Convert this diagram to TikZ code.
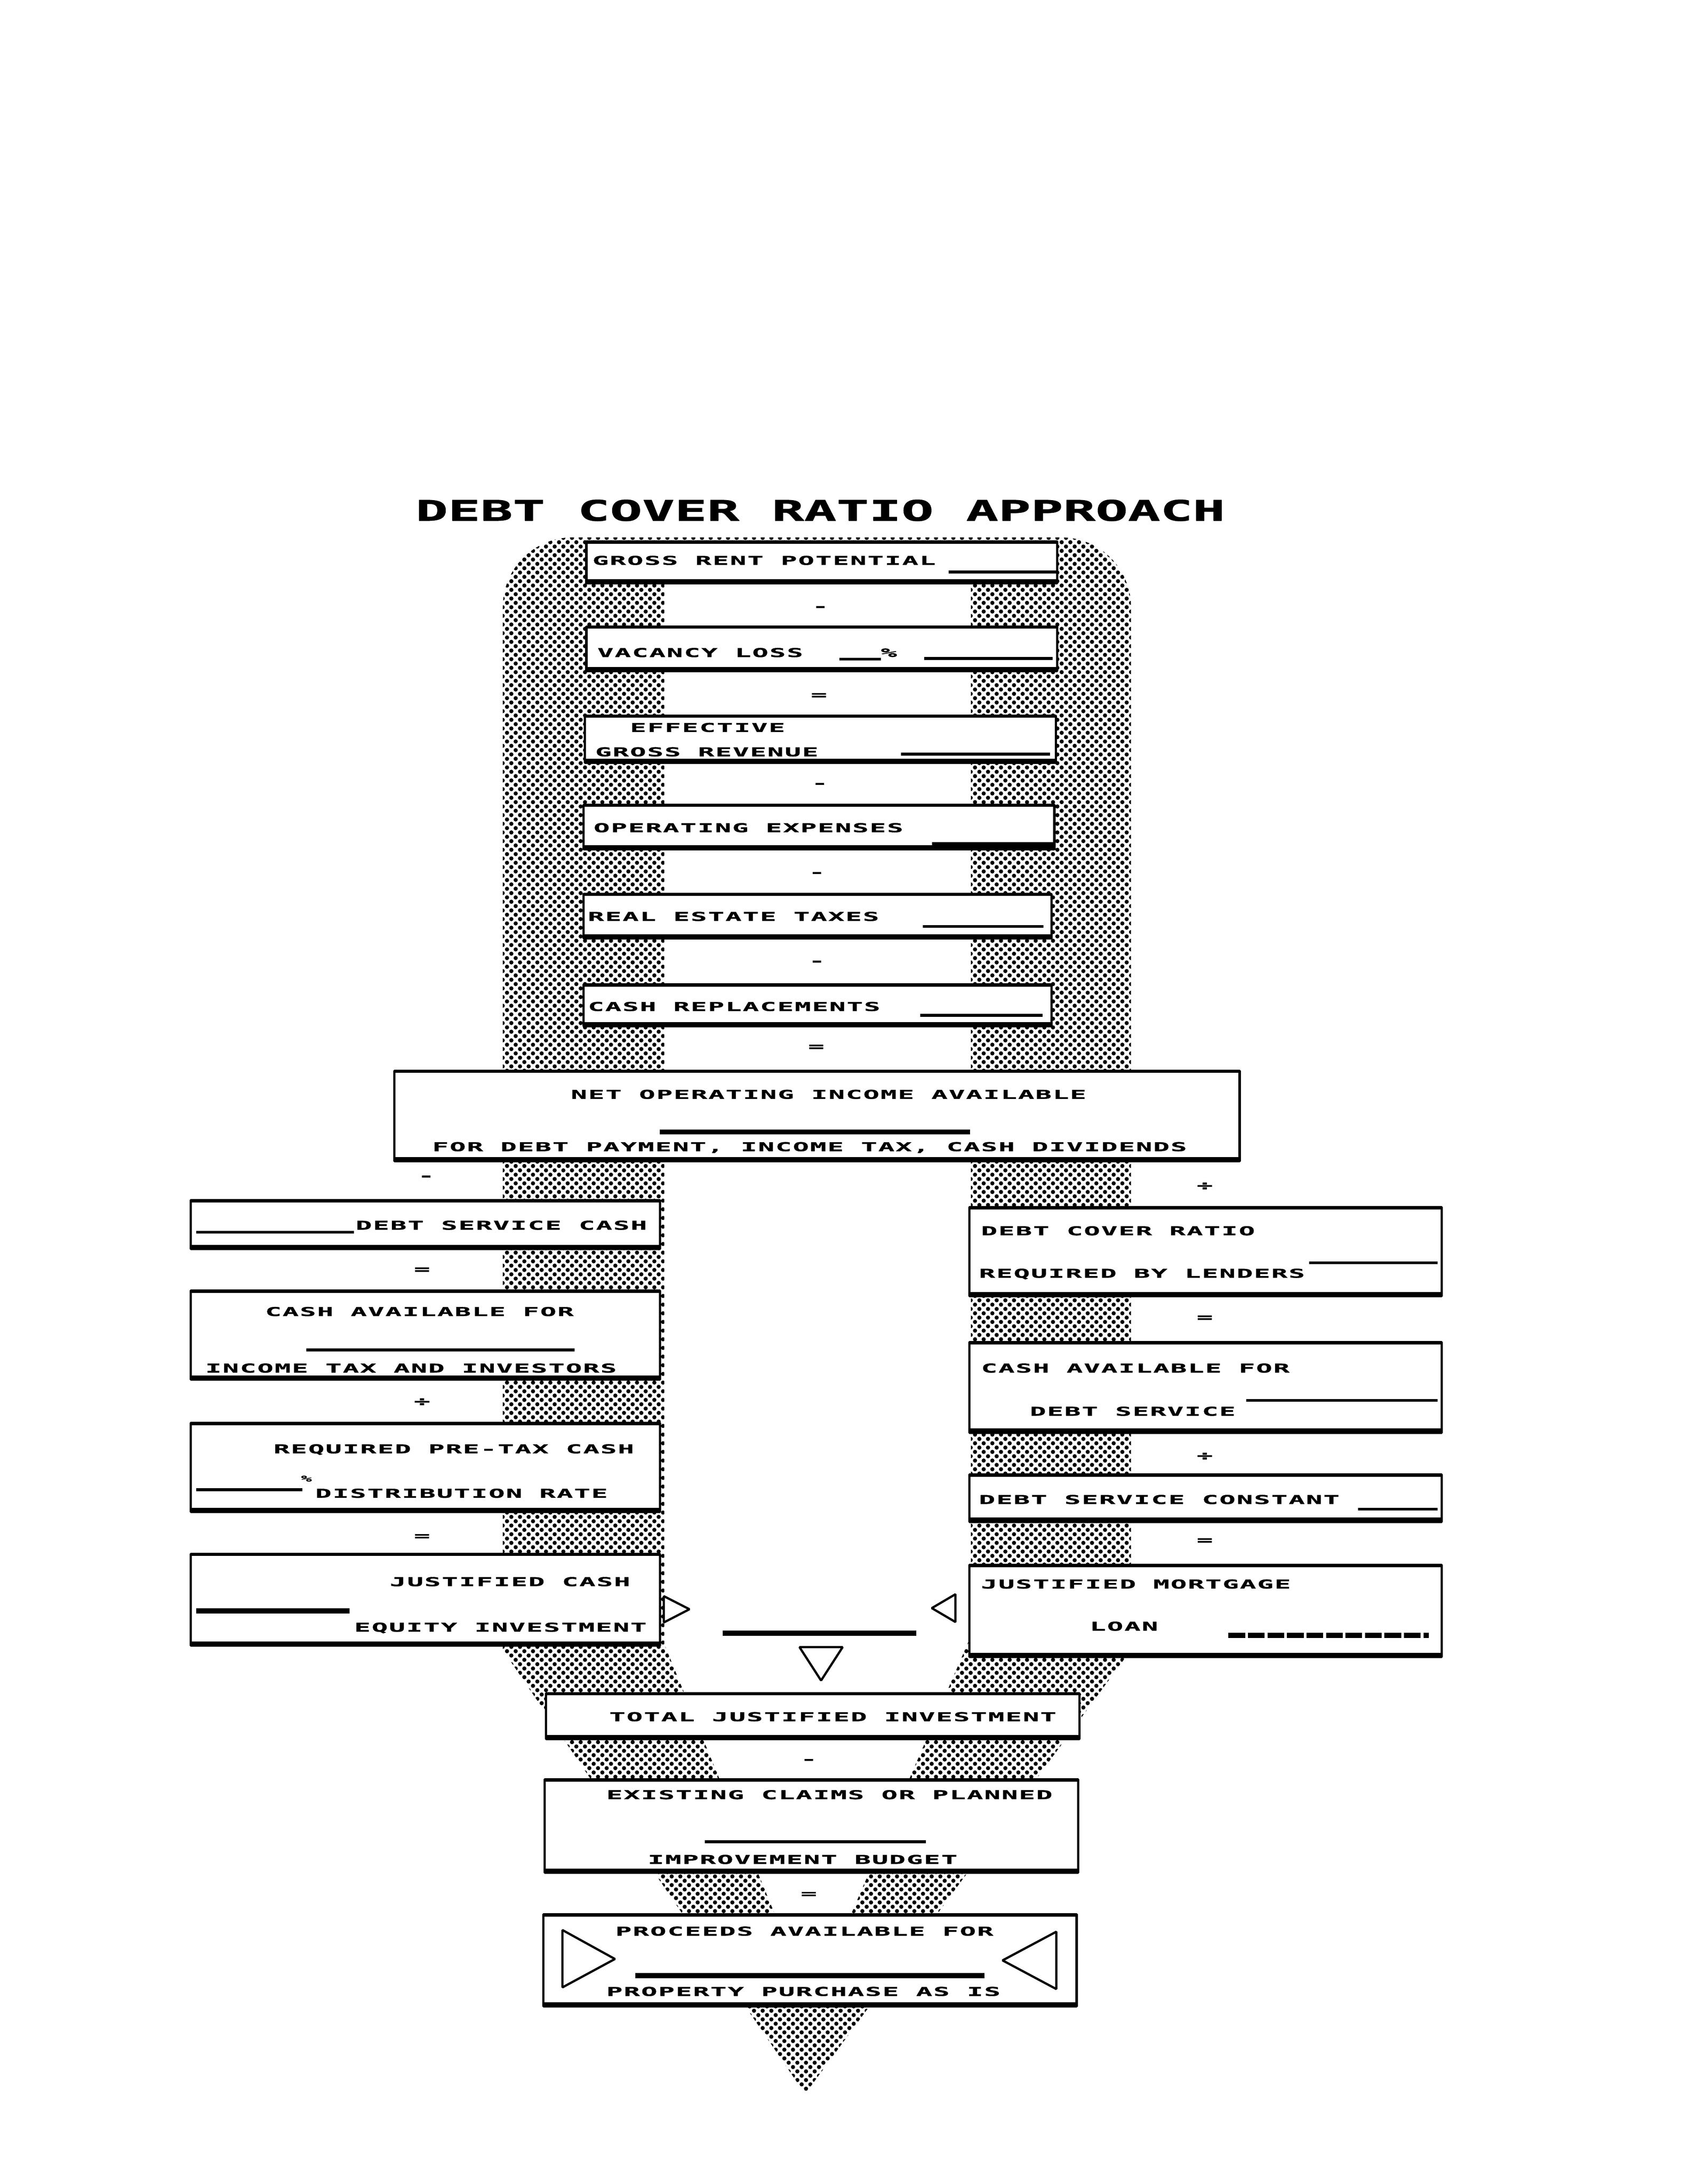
\documentclass[tikz,border=0pt]{standalone}
\usepackage{fontspec}
\usetikzlibrary{patterns.meta}
\newfontfamily\formfont{DejaVu Sans Mono Bold}[FakeStretch=2.2,LetterSpace=9.5,FakeBold=1.5]
\newfontfamily\titlefont{DejaVu Sans Mono Bold}[FakeStretch=1.9,FakeBold=1.5]
\begin{document}
\begin{tikzpicture}[line join=bevel,
  boxnode/.style={draw,line width=0.8pt,fill=white,inner sep=0pt,
    path picture={\draw[line width=1.6pt] (path picture bounding box.north west) -- (path picture bounding box.north east);
      \draw[line width=3pt] (path picture bounding box.south west) -- (path picture bounding box.south east);}},
  formtext/.style={font={\formfont\fontsize{4.4}{5}\selectfont},inner sep=0pt,anchor=base west},
  formop/.style={font={\formfont\fontsize{4.4}{5}\selectfont},inner sep=0pt},
  blank/.style={line width=1bp},
  heavyblank/.style={line width=1.8bp},
  stipple/.style={pattern={Dots[distance=2.2bp,radius=0.75bp,angle=45]}},
  ]
\useasboundingbox (0bp,0bp) rectangle (612bp,784.3bp);
%% stippled ground
\path [stipple] (289bp,32.3bp) -- (180.5bp,191.8bp) -- (180.5bp,500bp) [rounded corners=25bp] -- (180.5bp,591.3bp) -- (406bp,591.3bp) -- (406bp,500bp) [sharp corners] -- (406bp,191.8bp) -- cycle;
\fill [white] (238.5bp,584.3bp) -- (238.5bp,193.8bp) -- (291.5bp,64.3bp) -- (348.5bp,196.8bp) -- (348.5bp,584.3bp) -- cycle;
%%
\node (node_title) at (149bp,597.3bp) [inner sep=0pt,anchor=base west,font={\titlefont\fontsize{10.2}{12}\selectfont}] {DEBT COVER RATIO APPROACH};
%% upper column
\node (node_gross) at (295bp,582.3bp) [boxnode,minimum width=169bp,minimum height=15bp] {};
  \node (node_vacancy) at (295bp,551.3bp) [boxnode,minimum width=169bp,minimum height=16bp] {};
  \node (node_effective) at (294.5bp,518.8bp) [boxnode,minimum width=169bp,minimum height=17bp] {};
  \node (node_operating) at (294bp,487.3bp) [boxnode,minimum width=169bp,minimum height=16bp] {};
  \node (node_taxes) at (293.5bp,455.3bp) [boxnode,minimum width=168bp,minimum height=16bp] {};
  \node (node_replace) at (293.5bp,423.3bp) [boxnode,minimum width=168bp,minimum height=15bp] {};
  \node (node_gross_t) at (212.5bp,581.45bp) [formtext] {GROSS RENT POTENTIAL};
  \node (node_vacancy_t) at (214.25bp,548.35bp) [formtext] {VACANCY LOSS};
  \node (node_vacancy_p) at (316bp,548.35bp) [formtext] {\%};
  \node (node_effective_t) at (226bp,521.45bp) [formtext] {EFFECTIVE};
  \node (node_effective_u) at (213.5bp,512.7bp) [formtext] {GROSS REVENUE};
  \node (node_operating_t) at (212.9bp,485.45bp) [formtext] {OPERATING EXPENSES};
  \node (node_taxes_t) at (210.85bp,453.6bp) [formtext] {REAL ESTATE TAXES};
  \node (node_replace_t) at (210.85bp,421.25bp) [formtext] {CASH REPLACEMENTS};
  \node (node_op_1) at (294.5bp,565.8bp) [formop] {-};
  \node (node_op_2) at (294bp,534.3bp) [formop] {=};
  \node (node_op_3) at (294.3bp,502.3bp) [formop] {-};
  \node (node_op_4) at (293.25bp,470.3bp) [formop] {-};
  \node (node_op_5) at (293.25bp,438.5bp) [formop] {-};
  \node (node_op_6) at (293bp,408.05bp) [formop] {=};
  \draw [blank] (340.5bp,578.9bp) -- (379.5bp,578.9bp);
  \draw [blank] (301.3bp,547.55bp) -- (316.15bp,547.55bp);
  \draw [blank] (331.8bp,547.8bp) -- (377.85bp,547.8bp);
  \draw [blank] (323.5bp,513.45bp) -- (377bp,513.45bp);
  \draw [blank] (334.5bp,481.3bp) -- (378.75bp,481.3bp);
  \draw [blank] (331.35bp,451.55bp) -- (374.5bp,451.55bp);
  \draw [blank] (330.35bp,419.65bp) -- (374.2bp,419.65bp);
%% net operating income
\node (node_net) at (293.25bp,383.55bp) [boxnode,minimum width=303.5bp,minimum height=32.5bp] {};
  \node (node_net_t) at (204.75bp,389.7bp) [formtext] {NET OPERATING INCOME AVAILABLE};
  \node (node_net_u) at (155bp,370.9bp) [formtext] {FOR DEBT PAYMENT, INCOME TAX, CASH DIVIDENDS};
  \draw [heavyblank] (236.8bp,377.8bp) -- (348.2bp,377.8bp);
%% equity side
\node (node_dscash) at (152.75bp,344.55bp) [boxnode,minimum width=168.5bp,minimum height=17.5bp] {};
  \node (node_cashinv) at (152.75bp,304.8bp) [boxnode,minimum width=168.5bp,minimum height=32bp] {};
  \node (node_rate) at (152.75bp,257.3bp) [boxnode,minimum width=168.5bp,minimum height=32bp] {};
  \node (node_equity) at (152.75bp,209.8bp) [boxnode,minimum width=168.5bp,minimum height=33bp] {};
  \node (node_op_7) at (153bp,361.3bp) [formop] {-};
  \node (node_op_8) at (151.5bp,328.05bp) [formop] {=};
  \node (node_op_9) at (151.5bp,280.8bp) [formop] {÷};
  \node (node_op_10) at (151.5bp,232.3bp) [formop] {=};
  \node (node_dscash_t) at (127.5bp,342.7bp) [formtext] {DEBT SERVICE CASH};
  \node (node_cashinv_t) at (95bp,311.7bp) [formtext] {CASH AVAILABLE FOR};
  \node (node_cashinv_u) at (73.5bp,291.4bp) [formtext] {INCOME TAX AND INVESTORS};
  \node (node_rate_t) at (98bp,262.4bp) [formtext] {REQUIRED PRE-TAX CASH};
  \node (node_rate_p) at (110bp,253.3bp) [inner sep=0pt,font={\formfont\fontsize{3}{3}\selectfont}] {\%};
  \node (node_rate_u) at (113bp,246.45bp) [formtext] {DISTRIBUTION RATE};
  \node (node_equity_t) at (139.75bp,214.7bp) [formtext] {JUSTIFIED CASH};
  \node (node_equity_u) at (127bp,198.35bp) [formtext] {EQUITY INVESTMENT};
  \draw [blank] (70.5bp,341.8bp) -- (127bp,341.8bp);
  \draw [blank] (110bp,299.5bp) -- (206.25bp,299.5bp);
  \draw [blank] (70.5bp,249.3bp) -- (108.5bp,249.3bp);
  \draw [heavyblank] (70.5bp,205.8bp) -- (125.5bp,205.8bp);
%% mortgage side
\node (node_dcr) at (432.75bp,334.8bp) [boxnode,minimum width=169.5bp,minimum height=32bp] {};
  \node (node_cashds) at (432.75bp,286.05bp) [boxnode,minimum width=169.5bp,minimum height=32.5bp] {};
  \node (node_const) at (432.75bp,246.3bp) [boxnode,minimum width=169.5bp,minimum height=17bp] {};
  \node (node_loan) at (432.75bp,205.8bp) [boxnode,minimum width=169.5bp,minimum height=33bp] {};
  \node (node_op_11) at (432.5bp,358.3bp) [formop] {÷};
  \node (node_op_12) at (432.5bp,310.8bp) [formop] {=};
  \node (node_op_13) at (432.5bp,261.3bp) [formop] {÷};
  \node (node_op_14) at (432.5bp,230.8bp) [formop] {=};
  \node (node_dcr_t) at (352bp,340.7bp) [formtext] {DEBT COVER RATIO};
  \node (node_dcr_u) at (351.25bp,325.45bp) [formtext] {REQUIRED BY LENDERS};
  \node (node_cashds_t) at (352bp,291.4bp) [formtext] {CASH AVAILABLE FOR};
  \node (node_cashds_u) at (369.5bp,275.9bp) [formtext] {DEBT SERVICE};
  \node (node_const_t) at (351.25bp,244.2bp) [formtext] {DEBT SERVICE CONSTANT};
  \node (node_loan_t) at (352bp,213.85bp) [formtext] {JUSTIFIED MORTGAGE};
  \node (node_loan_u) at (391bp,198.7bp) [formtext] {LOAN};
  \draw [blank] (470bp,330.8bp) -- (516bp,330.8bp);
  \draw [blank] (447.35bp,281.4bp) -- (516bp,281.4bp);
  \draw [blank] (487.5bp,242.3bp) -- (516bp,242.3bp);
  \draw [heavyblank,dash pattern=on 6bp off 1bp] (441bp,197bp) -- (513bp,197bp);
%% merge
\draw [line width=0.8pt] (238.3bp,211.1bp) -- (247.5bp,206.4bp) -- (238.3bp,201.65bp) -- cycle;
  \draw [line width=0.8pt] (343bp,211.8bp) -- (334.5bp,206.8bp) -- (343bp,201.8bp) -- cycle;
  \draw [heavyblank] (259.5bp,197.8bp) -- (329bp,197.8bp);
  \draw [line width=0.8pt] (287bp,192.8bp) -- (302.5bp,192.8bp) -- (294.75bp,180.8bp) -- cycle;
%% lower column
\node (node_total) at (291.75bp,168.05bp) [boxnode,minimum width=191.5bp,minimum height=16.5bp] {};
  \node (node_claims) at (291.25bp,128.55bp) [boxnode,minimum width=191.5bp,minimum height=33.5bp] {};
  \node (node_proceeds) at (290.75bp,80.3bp) [boxnode,minimum width=191.5bp,minimum height=33bp] {};
  \node (node_total_t) at (218.5bp,166.2bp) [formtext] {TOTAL JUSTIFIED INVESTMENT};
  \node (node_op_15) at (290.35bp,151.8bp) [formop] {-};
  \node (node_claims_t) at (217.5bp,138.2bp) [formtext] {EXISTING CLAIMS OR PLANNED};
  \node (node_claims_u) at (232.35bp,114.95bp) [formtext] {IMPROVEMENT BUDGET};
  \draw [blank] (253bp,122.9bp) -- (332.35bp,122.9bp);
  \node (node_op_16) at (290.35bp,103.8bp) [formop] {=};
  \node (node_proceeds_t) at (220.75bp,89.2bp) [formtext] {PROCEEDS AVAILABLE FOR};
  \node (node_proceeds_u) at (217.5bp,67.55bp) [formtext] {PROPERTY PURCHASE AS IS};
  \draw [heavyblank] (228bp,74.8bp) -- (353.4bp,74.8bp);
  \draw [line width=0.8pt] (201.9bp,91.2bp) -- (220.75bp,80.8bp) -- (201.9bp,70.6bp) -- cycle;
  \draw [line width=0.8pt] (379.2bp,90.6bp) -- (359.9bp,80.3bp) -- (379.2bp,70bp) -- cycle;
%
\end{tikzpicture}
\end{document}
